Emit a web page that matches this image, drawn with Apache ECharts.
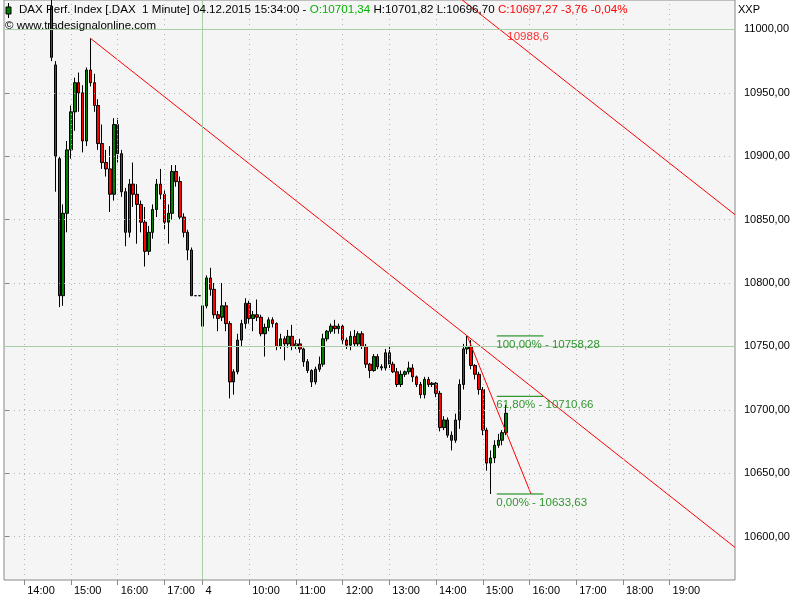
<!DOCTYPE html>
<html><head><meta charset="utf-8">
<script src="https://cdn.jsdelivr.net/npm/echarts@6/dist/echarts.min.js"></script>
<style>html,body{margin:0;padding:0;background:#fff}#c{width:800px;height:600px}</style>
</head><body><div id="c"></div>
<script>
// 5-minute OHLC: [time, open, close, low, high]
const day1Bars = [
["14:35",11018,10978,10975,11030],["14:40",10972,10900,10872,10975],["14:45",10898,10790,10781,10900],
["14:50",10790,10855,10782,10862],["14:55",10855,10905,10840,10912],["15:00",10905,10935,10898,10940],
["15:05",10935,10958,10920,10962],["15:10",10958,10950,10935,10966],["15:15",10950,10912,10903,10956],
["15:20",10912,10968,10908,10970],["15:25",10968,10958,10955,10993],["15:30",10958,10940,10935,10965],
["15:35",10940,10910,10905,10945],["15:40",10910,10895,10890,10925],["15:45",10895,10890,10884,10905],
["15:50",10890,10870,10856,10908],["15:55",10870,10925,10865,10930],["16:00",10925,10902,10895,10930],
["16:05",10902,10872,10868,10905],["16:10",10872,10840,10829,10875],["16:15",10840,10878,10836,10882],
["16:20",10878,10870,10860,10895],["16:25",10870,10862,10831,10878],["16:30",10862,10848,10840,10865],
["16:35",10848,10825,10813,10860],["16:40",10825,10840,10822,10845],["16:45",10840,10858,10835,10862],
["16:50",10858,10878,10852,10882],["16:55",10878,10870,10866,10890],["17:00",10870,10848,10842,10873],
["17:05",10848,10855,10831,10862],["17:10",10855,10888,10850,10893],["17:15",10888,10880,10876,10893],
["17:20",10880,10852,10850,10884],["17:25",10852,10840,10836,10855],["17:30",10840,10826,10818,10842],
["17:35",10826,10790,10790,10828],["17:40",10790,10790,10790,10790],["17:45",10790,10790,10790,10790]
];
const day2Bars = [
["09:00",10766,10782,10761,10785],["09:05",10782,10804,10780,10806],["09:10",10804,10795,10790,10812],
["09:15",10795,10775,10772,10800],["09:20",10775,10772,10762,10778],["09:25",10773,10782,10770,10800],
["09:30",10782,10768,10762,10785],["09:35",10768,10722,10709,10770],["09:40",10722,10730,10712,10732],
["09:45",10730,10755,10728,10760],["09:50",10755,10768,10750,10771],["09:55",10768,10784,10764,10788],
["10:00",10784,10772,10768,10786],["10:05",10772,10775,10762,10778],["10:10",10775,10773,10770,10787],
["10:15",10773,10760,10758,10775],["10:20",10760,10765,10742,10768],["10:25",10765,10771,10762,10773],
["10:30",10771,10768,10765,10773],["10:35",10768,10750,10747,10769],["10:40",10750,10756,10748,10760],
["10:45",10756,10752,10739,10758],["10:50",10752,10758,10749,10763],["10:55",10758,10750,10747,10767],
["11:00",10750,10752,10748,10755],["11:05",10752,10748,10745,10756],["11:10",10748,10738,10734,10749],
["11:15",10738,10731,10729,10740],["11:20",10731,10722,10718,10732],["11:25",10722,10732,10720,10734],
["11:30",10732,10736,10730,10742],["11:35",10736,10756,10734,10760],["11:40",10756,10762,10754,10763],
["11:45",10762,10766,10760,10768],["11:50",10766,10764,10760,10771],["11:55",10764,10766,10760,10768],
["12:00",10766,10755,10752,10767],["12:05",10755,10751,10748,10757],["12:10",10751,10758,10747,10762],
["12:15",10758,10752,10750,10763],["12:20",10752,10760,10750,10762],["12:25",10760,10750,10748,10762],
["12:30",10750,10736,10733,10752],["12:35",10736,10731,10725,10737],["12:40",10731,10742,10730,10744],
["12:45",10742,10734,10732,10744],["12:50",10734,10733,10731,10736],["12:55",10733,10745,10731,10748],
["13:00",10745,10736,10733,10750],["13:05",10736,10730,10729,10738],["13:10",10730,10720,10718,10733],
["13:15",10720,10728,10718,10731],["13:20",10728,10730,10726,10731],["13:25",10730,10733,10728,10738],
["13:30",10733,10726,10722,10736],["13:35",10726,10720,10718,10727],["13:40",10720,10712,10709,10722],
["13:45",10712,10724,10709,10726],["13:50",10724,10720,10718,10726],["13:55",10720,10721,10718,10722],
["14:00",10721,10713,10710,10722],["14:05",10713,10686,10683,10715],["14:10",10686,10692,10684,10695],
["14:15",10692,10680,10678,10694],["14:20",10680,10676,10668,10683],["14:25",10676,10692,10674,10697],
["14:30",10692,10720,10685,10724],["14:35",10720,10748,10716,10752],["14:40",10748,10750,10744,10758.28],
["14:45",10750,10735,10732,10755],["14:50",10735,10728,10724,10736],["14:55",10728,10716,10712,10730],
["15:00",10716,10684,10680,10718],["15:05",10684,10658,10652,10686],["15:10",10658,10662,10633.63,10668],
["15:15",10662,10672,10658,10676],["15:20",10672,10676,10670,10681],["15:25",10676,10682,10672,10684],
["15:30",10682,10697.27,10680,10704]
];
// x-axis ticks: [day, time, label]
const xTicks = [
[1,"14:00","14:00"],[1,"15:00","15:00"],[1,"16:00","16:00"],[1,"17:00","17:00"],[2,"09:00","4"],
[2,"10:00","10:00"],[2,"11:00","11:00"],[2,"12:00","12:00"],[2,"13:00","13:00"],[2,"14:00","14:00"],
[2,"15:00","15:00"],[2,"16:00","16:00"],[2,"17:00","17:00"],[2,"18:00","18:00"],[2,"19:00","19:00"]
];
const yTicks = [10600,10650,10700,10750,10800,10850,10900,10950,11000];
const greenLevels = [11000,10750];
// drawing-tool lines: [day, time, price]
const trendMain  = [[1,"15:25",10993],[2,"20:24",10591.5]];
const trendUpper = [[2,"14:30",11025],[2,"20:24",10853.9]];
const upperLabel = [2,"15:45",10988.6,"10988,6"];
const fibDiagonal = [[2,"14:40",10758.28],[2,"16:02",10633.63]];
const fibLevels = [["100,00%",10758.28],["61,80%",10710.66],["0,00%",10633.63]];
const fibSpan = [[2,"15:18"],[2,"16:18"]];

// session-compressed minute scale (overnight gap removed)
function toM(day, hhmm){ const p = hhmm.split(':').map(Number); const t = p[0]*60+p[1]; return day===1 ? t-814 : t-540+255; }
const FONT = 'Liberation Sans';
const GREEN = '#008000';
const candles = day1Bars.map(b=>[toM(1,b[0]),b[1],b[2],b[3],b[4]]).concat(day2Bars.map(b=>[toM(2,b[0]),b[1],b[2],b[3],b[4]]));
const tickM = xTicks.map(t=>toM(t[0],t[1]));
const tickLabel = {}; xTicks.forEach(t=>{tickLabel[toM(t[0],t[1])]=t[2];});
const sepM = toM(2,"09:00");
const pt = a => [toM(a[0],a[1]), a[2]];
const fmt = v => v.toFixed(2).replace('.',',');

const chart = echarts.init(document.getElementById('c'), null, {renderer:'canvas'});
const dotStyle = {color:'#b4b4b4', type:[1,4], width:1};
const greenStyle = {color:'#a9cfa9', type:'solid', width:1};
const gridMarks = [];
yTicks.forEach(v=>{ gridMarks.push({yAxis:v, lineStyle: greenLevels.includes(v)?greenStyle:dotStyle}); });
tickM.forEach(m=>{ gridMarks.push({xAxis:m, lineStyle: m===sepM?greenStyle:dotStyle}); });

const series = [
 {type:'line', data:[], z:1, silent:true,
  markLine:{silent:true, symbol:['none','none'], label:{show:false}, animation:false, data:gridMarks}},
 {type:'candlestick', data:candles, barWidth:3, z:3, clip:true,
  itemStyle:{color:GREEN, color0:'#ff0000', borderColor:'#000', borderColor0:'#000', borderColorDoji:'#000', borderWidth:1}},
 {type:'line', data:trendMain.map(pt), symbol:'none', z:4, clip:true, lineStyle:{color:'#ff0000', width:1}},
 {type:'line', data:trendUpper.map(pt), symbol:'none', z:4, clip:true, lineStyle:{color:'#ff0000', width:1}},
 {type:'line', data:fibDiagonal.map(pt), symbol:'none', z:4, clip:true, lineStyle:{color:'#ff0000', width:1}},
 {type:'scatter', symbolSize:1, z:5, itemStyle:{color:'rgba(0,0,0,0)'},
  data:[{value:[toM(upperLabel[0],upperLabel[1]),upperLabel[2]], label:{show:true, formatter:upperLabel[3], position:[-10,-13], align:'left', verticalAlign:'top', color:'#ff0000', fontFamily:FONT, fontSize:11.5}}]}
];
fibLevels.forEach(f=>{
  series.push({type:'line', symbol:'none', z:4, lineStyle:{color:GREEN, width:1},
    data: fibSpan.map(s=>[toM(s[0],s[1]), f[1]])});
  series.push({type:'scatter', symbolSize:1, z:5, itemStyle:{color:'rgba(0,0,0,0)'},
    data:[{value:[toM(fibSpan[0][0],fibSpan[0][1]), f[1]], label:{show:true, formatter:f[0]+' - '+fmt(f[1]), position:[0,3], align:'left', verticalAlign:'top', color:GREEN, fontFamily:FONT, fontSize:11.5}}]});
});

const HF = '11.6px '+FONT;
chart.setOption({
  animation:false,
  backgroundColor:'#ffffff',
  grid:{left:4, right:65, top:0, bottom:20, show:true, backgroundColor:'#f5f5f5', borderColor:'#888888', borderWidth:1},
  xAxis:{type:'value', min:0, max:939, position:'bottom',
    axisLine:{show:false}, splitLine:{show:false},
    axisTick:{show:true, customValues:tickM, length:5, lineStyle:{color:'#888888'}},
    axisLabel:{show:true, customValues:tickM, formatter:v=>tickLabel[v]||'', align:'left', padding:[0,0,0,3], margin:5, color:'#000', fontFamily:FONT, fontSize:11}},
  yAxis:{type:'value', position:'right', min:10565.8, max:11023.2, scale:true,
    axisLine:{show:false}, splitLine:{show:false},
    axisTick:{show:true, customValues:yTicks, length:5, lineStyle:{color:'#888888'}},
    axisLabel:{show:true, customValues:yTicks, formatter:v=>fmt(v), margin:9, color:'#000', fontFamily:FONT, fontSize:11}},
  graphic:[
    {type:'line', z:100, shape:{x1:8.5,y1:3,x2:8.5,y2:18}, style:{stroke:'#000', lineWidth:1}},
    {type:'rect', z:101, shape:{x:6,y:7,width:5,height:7}, style:{fill:GREEN, stroke:'#000', lineWidth:1}},
    {type:'text', z:100, left:19, top:4, style:{
      text:'{k|DAX Perf. Index [.DAX  1 Minute] 04.12.2015 15:34:00 - }{g|O:10701,34 }{k|H:10701,82 L:10696,70 }{r|C:10697,27 -3,76 -0,04%}',
      font:HF,
      rich:{k:{fill:'#000', font:HF}, g:{fill:'#00b400', font:HF}, r:{fill:'#ff0000', font:HF}}}},
    {type:'text', z:100, left:5, top:20, style:{text:'\u00a9 www.tradesignalonline.com', fill:'#000', font:'11.5px '+FONT}},
    {type:'text', z:100, left:738, top:4, style:{text:'XXP', fill:'#000', font:'11px '+FONT}}
  ],
  series: series
});
</script></body></html>
